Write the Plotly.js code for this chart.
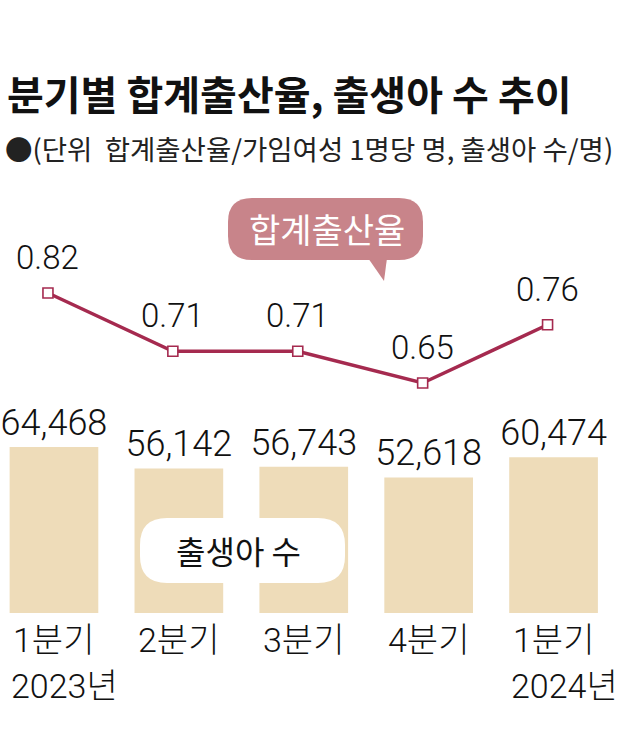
<!DOCTYPE html>
<html>
<head>
<meta charset="utf-8">
<script src="https://cdn.plot.ly/plotly-3.0.1.min.js"></script>
<style>html,body{margin:0;padding:0;background:#fff;}#chart{width:628px;height:741px;}</style>
</head>
<body>
<div id="chart"></div>
<script>
// ---- data ----
const quarters = ['1분기', '2분기', '3분기', '4분기', '1분기'];
const years = ['2023년', '', '', '', '2024년'];
const births = [64468, 56142, 56743, 52618, 60474];
const fertility = [0.82, 0.71, 0.71, 0.65, 0.76];
const titleText = '분기별 합계출산율, 출생아 수 추이';
const unitText = '●(단위  합계출산율/가임여성 1명당 명, 출생아 수/명)';
const lineName = '합계출산율';
const barName = '출생아 수';

// ---- helpers ----
const W = 628, H = 741;
const px = x => x / W;
const py = y => 1 - y / H;
function roundRect(x0, y0, x1, y1, r) {
  const P = (x, y) => px(x) + ',' + py(y);
  return 'M' + P(x0 + r, y0) + ' L' + P(x1 - r, y0) + ' Q' + P(x1, y0) + ' ' + P(x1, y0 + r) +
    ' L' + P(x1, y1 - r) + ' Q' + P(x1, y1) + ' ' + P(x1 - r, y1) +
    ' L' + P(x0 + r, y1) + ' Q' + P(x0, y1) + ' ' + P(x0, y1 - r) +
    ' L' + P(x0, y0 + r) + ' Q' + P(x0, y0) + ' ' + P(x0 + r, y0) + ' Z';
}
const idx = quarters.map((_, i) => i);
const KR = '"Noto Sans CJK KR", "Noto Sans", sans-serif';
const NUM = 'Roboto, "Noto Sans CJK KR", sans-serif';
const crimson = '#a52a4f';

const barTrace = {
  type: 'bar', x: idx, y: births, width: 0.71,
  marker: { color: '#eedcb9' },
  texttemplate: '%{y:,}', textposition: 'outside', cliponaxis: false,
  constraintext: 'none',
  textfont: { family: NUM, size: 36, color: '#111', weight: 300 },
  hoverinfo: 'skip', xaxis: 'x', yaxis: 'y'
};
const lineTrace = {
  type: 'scatter', mode: 'lines+markers', x: idx, y: fertility,
  line: { color: crimson, width: 3.5 },
  marker: { symbol: 'square', size: 10, color: '#fff', line: { color: crimson, width: 1.6 } },
  cliponaxis: false, hoverinfo: 'skip', xaxis: 'x2', yaxis: 'y2'
};

const hidden = { visible: false, showgrid: false, zeroline: false, fixedrange: true };

const annotations = [
  { text: '<b>' + titleText + '</b>', xref: 'paper', yref: 'paper', x: px(5), y: py(93),
    xanchor: 'left', yanchor: 'middle', showarrow: false, font: { family: KR, size: 40, color: '#111' } },
  { text: unitText, xref: 'paper', yref: 'paper', x: px(3), y: py(148),
    xanchor: 'left', yanchor: 'middle', showarrow: false, font: { family: KR, size: 27.5, color: '#222' } },
  { text: lineName, xref: 'paper', yref: 'paper', x: px(327), y: py(229),
    xanchor: 'center', yanchor: 'middle', showarrow: false, font: { family: KR, size: 34, color: '#fff' } },
  { text: barName, xref: 'paper', yref: 'paper', x: px(238), y: py(550),
    xanchor: 'center', yanchor: 'middle', showarrow: false, font: { family: KR, size: 32, color: '#111' } }
];
fertility.forEach((v, i) => {
  annotations.push({ text: v.toFixed(2), xref: 'x2', yref: 'y2', x: i, y: v, yshift: 14,
    xanchor: 'center', yanchor: 'bottom', showarrow: false,
    font: { family: NUM, size: 33, color: '#111', weight: 300 } });
});
quarters.forEach((q, i) => {
  annotations.push({ text: q, xref: 'x', yref: 'paper', x: i, xshift: -43, y: py(640),
    xanchor: 'left', yanchor: 'middle', showarrow: false, font: { family: NUM, size: 34, color: '#111', weight: 300 } });
  if (years[i]) annotations.push({ text: years[i], xref: 'x', yref: 'paper', x: i, xshift: -45, y: py(686),
    xanchor: 'left', yanchor: 'middle', showarrow: false, font: { family: NUM, size: 34, color: '#111', weight: 300 } });
});

const shapes = [
  { type: 'path', xref: 'paper', yref: 'paper', layer: 'above', line: { width: 0 }, fillcolor: '#c8848a',
    path: roundRect(228, 198, 423, 260, 24) },
  { type: 'path', xref: 'paper', yref: 'paper', layer: 'above', line: { width: 0 }, fillcolor: '#c8848a',
    path: 'M' + px(368) + ',' + py(258) + ' L' + px(387) + ',' + py(258) + ' L' + px(384) + ',' + py(281) + ' Z' },
  { type: 'path', xref: 'paper', yref: 'paper', layer: 'above', line: { width: 0 }, fillcolor: '#ffffff',
    path: roundRect(140, 518, 345, 583, 27) }
];

const layout = {
  width: W, height: H, margin: { l: 0, r: 0, t: 0, b: 0 },
  paper_bgcolor: '#fff', plot_bgcolor: '#fff', showlegend: false,
  xaxis: Object.assign({}, hidden, { range: [-0.432, 4.596] }),
  xaxis2: Object.assign({}, hidden, { range: [-0.384, 4.644], overlaying: 'x' }),
  yaxis: Object.assign({}, hidden, { range: [-49700, 238000] }),
  yaxis2: Object.assign({}, hidden, { range: [-0.0263, 1.3735], overlaying: 'y' }),
  annotations: annotations, shapes: shapes
};

Plotly.newPlot('chart', [barTrace, lineTrace], layout, { staticPlot: true, displayModeBar: false });
</script>
</body>
</html>
